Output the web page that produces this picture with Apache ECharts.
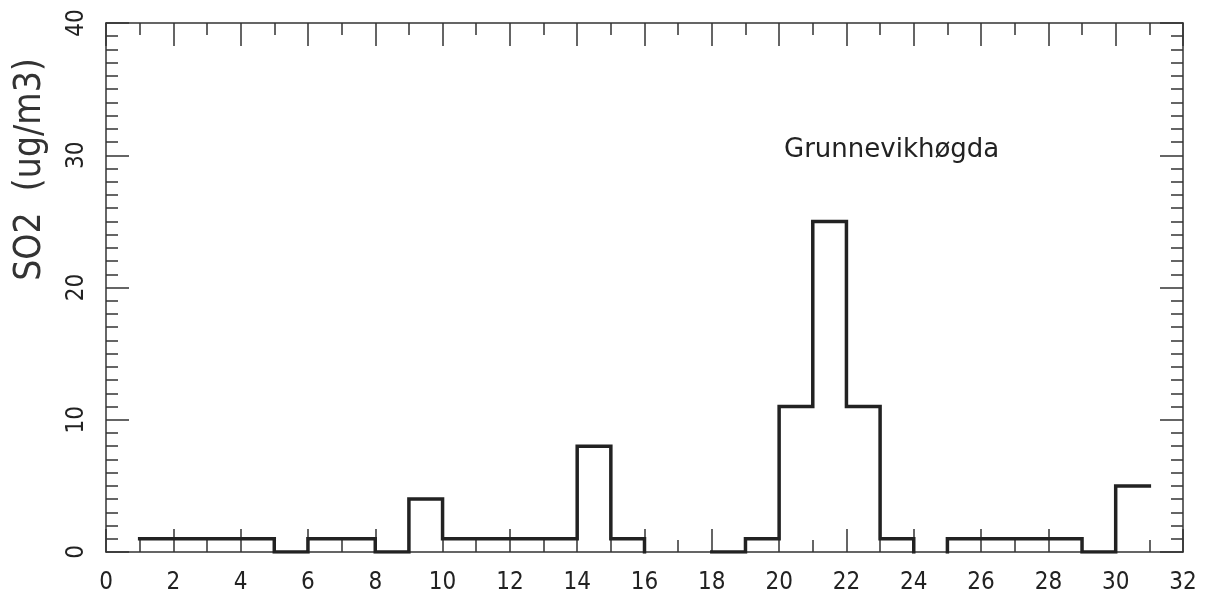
<!DOCTYPE html>
<html>
<head>
<meta charset="utf-8">
<script src="https://cdn.jsdelivr.net/npm/echarts@6/dist/echarts.min.js"></script>
<style>html,body{margin:0;padding:0;background:#fff}#c{width:1207px;height:607px}</style>
</head>
<body>
<div id="c"></div>
<script>
// Data (daily SO2, ug/m3)
var days = [1,2,3,4,5,6,7,8,9,10,11,12,13,14,15,16,17,18,19,20,21,22,23,24,25,26,27,28,29,30];
var values = [1,1,1,1,0,1,1,0,4,1,1,1,1,8,1,null,null,0,1,11,25,11,1,null,1,1,1,1,0,5];
var xTicks = [0,2,4,6,8,10,12,14,16,18,20,22,24,26,28,30,32];
var yTicks = [0,10,20,30,40];
var stationName = 'Grunnevikhøgda';
var yName = 'SO2  (ug/m3)';

// Build step-line segments (one per contiguous run of days)
var segments = [];
var cur = null;
for (var i = 0; i < days.length; i++) {
  var d = days[i], v = values[i];
  if (v === null) { if (cur) { segments.push(cur); cur = null; } continue; }
  if (!cur) {
    cur = [];
    if (i > 0 && values[i - 1] === null) cur.push([d, 0]);
  }
  cur.push([d, v]);
  cur.push([d + 1, v]);
  if (i < days.length - 1 && values[i + 1] === null) cur.push([d + 1, 0]);
}
if (cur) segments.push(cur);

var FONT = '"DejaVu Sans Condensed", "Liberation Sans Narrow", "DejaVu Sans", sans-serif';
var AX = '#333';

function xAxisCfg(pos, showLabel) {
  return {
    type: 'value', position: pos, min: xTicks[0], max: xTicks[xTicks.length - 1], interval: 2,
    axisLine: { show: true, onZero: false, lineStyle: { color: AX, width: 1.5 } },
    axisTick: { show: true, inside: true, length: 23, lineStyle: { color: AX, width: 1.5 } },
    minorTick: { show: true, splitNumber: 2, length: 12, lineStyle: { color: AX, width: 1.5 } },
    splitLine: { show: false },
    axisLabel: { show: showLabel, margin: 19, color: '#222', fontSize: 24, fontFamily: FONT }
  };
}
function yAxisCfg(pos, showLabel) {
  return {
    type: 'value', position: pos, min: yTicks[0], max: yTicks[yTicks.length - 1], interval: 10,
    axisLine: { show: true, onZero: false, lineStyle: { color: AX, width: 1.5 } },
    axisTick: { show: true, inside: true, length: 23, lineStyle: { color: AX, width: 1.5 } },
    minorTick: { show: true, splitNumber: 10, length: 12, lineStyle: { color: AX, width: 1.5 } },
    splitLine: { show: false },
    axisLabel: { show: showLabel, rotate: 90, margin: 17, color: '#222', fontSize: 24, fontFamily: FONT }
  };
}

var yLeft = yAxisCfg('left', true);
yLeft.name = yName;
yLeft.nameLocation = 'middle';
yLeft.nameGap = 57;
yLeft.nameRotate = 90;
yLeft.nameTextStyle = { fontSize: 37, color: '#333', fontFamily: FONT, padding: [0, 0, 0, 236] };

var series = segments.map(function (seg) {
  return {
    type: 'line', xAxisIndex: 0, yAxisIndex: 0, data: seg, showSymbol: false, symbol: 'none',
    lineStyle: { color: '#222', width: 3.5, join: 'miter', cap: 'square' }, animation: false, silent: true
  };
});

var chart = echarts.init(document.getElementById('c'), null, { renderer: 'canvas' });
chart.setOption({
  backgroundColor: '#fff',
  animation: false,
  title: { text: stationName, left: 779, top: 132, textStyle: { fontSize: 26, fontWeight: 'normal', color: '#222', fontFamily: '"DejaVu Sans", sans-serif' } },
  grid: { left: 106, top: 23, right: 24, bottom: 55 },
  xAxis: [xAxisCfg('bottom', true), xAxisCfg('top', false)],
  yAxis: [yLeft, yAxisCfg('right', false)],
  series: series
});
</script>
</body>
</html>
